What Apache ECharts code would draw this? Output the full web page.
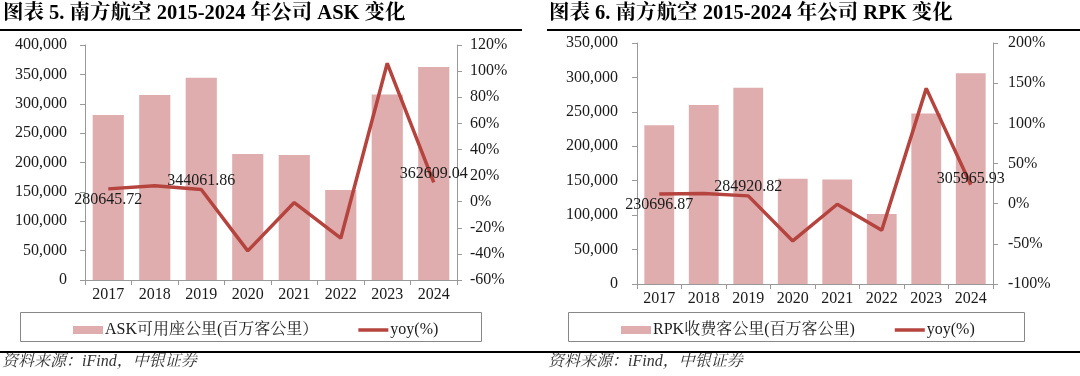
<!DOCTYPE html>
<html>
<head>
<meta charset="utf-8">
<script src="https://cdn.jsdelivr.net/npm/echarts@6/dist/echarts.min.js"></script>
<style>
html,body{margin:0;padding:0;background:#fff;}
#c{width:1080px;height:376px;}
</style>
</head>
<body>
<div id="c"></div>
<script>
const years = ['2017','2018','2019','2020','2021','2022','2023','2024'];
const askValues = [280645.72, 314930.23, 344061.86, 214441, 212966, 153360, 315934, 362609.04];
const askYoy = [9.8, 12.2, 9.3, -37.7, -0.7, -28.0, 106.0, 14.8];
const rpkValues = [230696.87, 259836, 284920.82, 152687, 151667, 101646, 247479, 305965.93];
const rpkYoy = [12.1, 12.6, 9.7, -46.4, -0.7, -33.0, 143.5, 23.6];
const labelIdx = [0, 2, 7];
const labelPos = ['bottom', 'top', 'top'];

const titleLeft = '图表 5. 南方航空 2015-2024 年公司 ASK 变化';
const titleRight = '图表 6. 南方航空 2015-2024 年公司 RPK 变化';
const askName = 'ASK可用座公里(百万客公里）';
const rpkName = 'RPK收费客公里(百万客公里)';
const yoyName = 'yoy(%)';
const source = '资料来源：iFind，中银证券';

const FONT = '"Liberation Serif","Times New Roman","Noto Serif CJK SC","Noto Sans CJK SC",serif';
const BAR = '#DFADAD';
const LINE = '#B5443F';
const AXIS = '#999999';
const TXT = '#1a1a1a';

const chart = echarts.init(document.getElementById('c'), null, {renderer:'canvas'});

function fmtThousands(v){ return String(v).replace(/\B(?=(\d{3})+(?!\d))/g, ','); }

function lineData(yoy, vals, dist){
  return yoy.map((v,i)=>{
    const k = labelIdx.indexOf(i);
    if (k < 0) return v;
    return {value: v, label: {show:true, position: labelPos[k], distance: dist[k],
      formatter: vals[i].toFixed(2)}};
  });
}

const xBase = {
  type:'category', data: years,
  axisLine:{lineStyle:{color:AXIS, width:1}},
  axisTick:{show:true, length:5, lineStyle:{color:AXIS}},
  axisLabel:{color:TXT, fontFamily:FONT, fontSize:16, margin:7}
};
function yLeft(gi, max, margin){
  return {type:'value', gridIndex:gi, min:0, max:max, interval:50000,
    axisLine:{show:true, lineStyle:{color:AXIS}},
    axisTick:{show:true, length:5, lineStyle:{color:AXIS}},
    splitLine:{show:false},
    axisLabel:{color:TXT, fontFamily:FONT, fontSize:16, margin:margin, formatter:v=>fmtThousands(v)}};
}
function yRight(gi, min, max, interval, margin){
  return {type:'value', gridIndex:gi, position:'right', min:min, max:max, interval:interval,
    axisLine:{show:true, lineStyle:{color:AXIS}},
    axisTick:{show:true, length:5, lineStyle:{color:AXIS}},
    splitLine:{show:false},
    axisLabel:{color:TXT, fontFamily:FONT, fontSize:16, margin:margin, formatter:v=>v+'%'}};
}
const lineIcon = 'path://M0,0L30,0L30,3.5L0,3.5Z';

const option = {
  backgroundColor:'#ffffff',
  animation:false,
  textStyle:{fontFamily:FONT},
  grid:[
    {left:85, width:372, top:45, height:235},
    {left:637, width:356, top:43, height:241}
  ],
  xAxis:[
    Object.assign({gridIndex:0}, xBase),
    Object.assign({gridIndex:1}, xBase)
  ],
  yAxis:[
    yLeft(0, 400000, 18),
    yRight(0, -60, 120, 20, 13),
    yLeft(1, 350000, 19),
    yRight(1, -100, 200, 50, 15)
  ],
  legend:[
    {left:68, top:317, itemWidth:30, itemHeight:8, itemGap:40, symbolKeepAspect:true,
     data:[{name:askName, icon:'rect'}, {name:yoyName, icon:lineIcon}],
     textStyle:{fontFamily:FONT, fontSize:16, color:TXT, padding:[0,0,0,-3]},
     selectedMode:false},
    {left:616, top:317, itemWidth:30, itemHeight:8, itemGap:40, symbolKeepAspect:true,
     data:[{name:rpkName, icon:'rect'}, {name:yoyName+' ', icon:lineIcon}],
     textStyle:{fontFamily:FONT, fontSize:16, color:TXT, padding:[0,0,0,-3]},
     selectedMode:false}
  ],
  series:[
    {name:askName, type:'bar', xAxisIndex:0, yAxisIndex:0, data:askValues,
     barCategoryGap:'33%', itemStyle:{color:BAR}},
    {name:yoyName, type:'line', xAxisIndex:0, yAxisIndex:1,
     data: lineData(askYoy, askValues, [3, 1, 1]),
     symbol:'circle', symbolSize:0, showSymbol:true, lineStyle:{color:LINE, width:3.5}, itemStyle:{color:LINE},
     label:{show:false, color:TXT, fontFamily:FONT, fontSize:16}},
    {name:rpkName, type:'bar', xAxisIndex:1, yAxisIndex:2, data:rpkValues,
     barCategoryGap:'33%', itemStyle:{color:BAR}},
    {name:yoyName+' ', type:'line', xAxisIndex:1, yAxisIndex:3,
     data: lineData(rpkYoy, rpkValues, [3, 1, -2]),
     symbol:'circle', symbolSize:0, showSymbol:true, lineStyle:{color:LINE, width:3.5}, itemStyle:{color:LINE},
     label:{show:false, color:TXT, fontFamily:FONT, fontSize:16}}
  ],
  graphic:[
    {type:'text', left:3, top:3, style:{text:titleLeft, font:'bold 20.5px '+FONT, fill:'#000'}},
    {type:'text', left:549, top:3, style:{text:titleRight, font:'bold 20.5px '+FONT, fill:'#000'}},
    {type:'rect', shape:{x:0, y:29, width:522, height:2}, style:{fill:'#000'}},
    {type:'rect', shape:{x:547, y:29, width:533, height:2}, style:{fill:'#000'}},
    {type:'rect', shape:{x:20.5, y:312.5, width:461, height:29}, style:{fill:'none', stroke:'#888', lineWidth:1}},
    {type:'rect', shape:{x:568.5, y:312.5, width:456, height:29}, style:{fill:'none', stroke:'#888', lineWidth:1}},
    {type:'rect', shape:{x:0, y:351, width:1080, height:2}, style:{fill:'#000'}},
    {type:'text', left:2, top:354, style:{text:source, font:'italic 16px '+FONT, fill:'#333'}},
    {type:'text', left:548, top:354, style:{text:source, font:'italic 16px '+FONT, fill:'#333'}}
  ]
};
chart.setOption(option);
</script>
</body>
</html>
